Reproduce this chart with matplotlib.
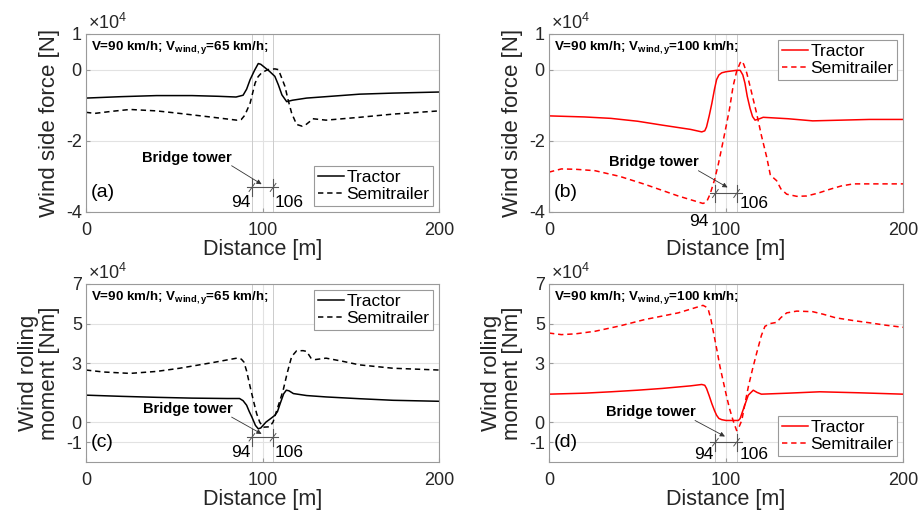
import numpy as np
import matplotlib
matplotlib.use("Agg")
import matplotlib.pyplot as plt

plt.rcParams['font.family'] = ['Liberation Sans', 'DejaVu Sans']
plt.rcParams['mathtext.fontset'] = 'custom'
plt.rcParams['mathtext.rm'] = 'Liberation Sans'
plt.rcParams['mathtext.it'] = 'Liberation Sans'
plt.rcParams['mathtext.bf'] = 'Liberation Sans:bold'
plt.rcParams['axes.unicode_minus'] = False

# ---- (a) side force, wind 65 km/h  [x1e4 N]
a_trac_x = [0, 20, 40, 60, 75, 85, 89, 91, 93, 95.5, 97.6, 99, 101, 104, 107, 109, 111, 113.7, 117, 125, 136, 155, 174, 200]
a_trac_y = [-0.80, -0.76, -0.73, -0.73, -0.75, -0.77, -0.72, -0.55, -0.28, -0.02, 0.17, 0.15, 0.07, -0.05, -0.19, -0.43, -0.71, -0.90, -0.86, -0.80, -0.76, -0.69, -0.66, -0.63]
a_semi_x = [0, 5, 15, 25, 40, 53, 72, 85.4, 88, 90, 93, 95.8, 97.5, 99.5, 103, 107, 109, 111, 112.7, 114.5, 116.5, 119.3, 122.5, 124.5, 127, 128.5, 136, 155, 174, 200]
a_semi_y = [-1.20, -1.23, -1.17, -1.12, -1.16, -1.23, -1.34, -1.42, -1.40, -1.28, -0.94, -0.38, -0.20, -0.09, 0.0, 0.02, 0.0, -0.25, -0.47, -0.85, -1.22, -1.54, -1.59, -1.55, -1.45, -1.38, -1.42, -1.34, -1.25, -1.16]

# ---- (b) side force, wind 100 km/h  [x1e4 N]
b_trac_x = [0, 20, 35, 50, 64, 80, 86.3, 88, 89, 90.5, 92, 93.5, 94.7, 96, 97.6, 100, 106, 108, 109.5, 110.7, 112, 113.6, 115, 116.4, 119, 121, 135, 149, 165, 181, 200]
b_trac_y = [-1.30, -1.33, -1.37, -1.45, -1.56, -1.68, -1.75, -1.72, -1.61, -1.30, -0.95, -0.55, -0.28, -0.15, -0.09, -0.06, -0.02, -0.02, -0.15, -0.38, -0.75, -1.09, -1.32, -1.42, -1.38, -1.34, -1.38, -1.44, -1.42, -1.40, -1.40]
b_semi_x = [0, 7, 15, 26, 40, 54, 73, 87, 89, 91, 93.5, 95.7, 98, 100.4, 102, 104, 106, 108, 108.9, 110, 111.7, 114, 117.3, 120, 123, 125, 127, 128.6, 131, 134.3, 140, 145.6, 152, 158.8, 165, 172, 185, 200]
b_semi_y = [-2.88, -2.79, -2.80, -2.84, -3.00, -3.22, -3.55, -3.76, -3.72, -3.50, -3.10, -2.65, -2.10, -1.51, -1.10, -0.47, -0.05, 0.19, 0.24, 0.15, -0.09, -0.55, -1.23, -1.85, -2.46, -2.95, -3.05, -3.12, -3.35, -3.50, -3.56, -3.55, -3.47, -3.36, -3.27, -3.21, -3.21, -3.21]

# ---- (c) rolling moment, wind 65 km/h  [x1e4 Nm]
c_trac_x = [0, 20, 40, 60, 80, 87, 89, 91, 92.5, 94, 96, 97.6, 99, 102, 105, 107, 108.5, 110, 112, 113.5, 115, 117.5, 125, 136, 155, 174, 200]
c_trac_y = [1.38, 1.32, 1.27, 1.23, 1.21, 1.21, 1.10, 0.87, 0.55, 0.27, -0.15, -0.32, -0.28, 0.02, 0.22, 0.36, 0.55, 0.95, 1.45, 1.63, 1.60, 1.46, 1.36, 1.29, 1.20, 1.12, 1.07]
c_semi_x = [0, 10, 25, 40, 53, 72, 85.4, 88, 89.5, 91, 93, 95, 96.7, 98.5, 100.5, 104, 106, 107.5, 109.5, 111.7, 114, 116.5, 119.3, 123, 125, 127.5, 130, 136, 145, 155, 174, 200]
c_semi_y = [2.65, 2.55, 2.48, 2.58, 2.74, 3.03, 3.25, 3.20, 3.05, 2.60, 1.80, 1.05, 0.44, 0.0, -0.24, -0.22, 0.02, 0.45, 1.00, 1.63, 2.50, 3.33, 3.62, 3.63, 3.59, 3.25, 3.18, 3.25, 3.10, 2.91, 2.74, 2.65]

# ---- (d) rolling moment, wind 100 km/h  [x1e4 Nm]
d_trac_x = [0, 20, 35, 50, 64, 80, 86.3, 88, 89, 90.5, 92, 93.5, 94.7, 96, 97.6, 100, 107, 108, 108.9, 110.5, 112.6, 115.4, 117.5, 120, 135, 153, 175, 200]
d_trac_y = [1.43, 1.48, 1.55, 1.63, 1.72, 1.85, 1.92, 1.88, 1.72, 1.35, 0.95, 0.60, 0.36, 0.20, 0.14, 0.10, 0.10, 0.20, 0.44, 0.85, 1.38, 1.63, 1.52, 1.43, 1.48, 1.55, 1.50, 1.43]
d_semi_x = [0, 7, 15, 26, 40, 54, 73, 87, 88.5, 90, 91.5, 93, 95, 96.6, 98.5, 100.4, 102, 104, 106, 107.5, 108.9, 110.5, 112.6, 115, 117.3, 120, 122, 125, 128.6, 131, 134.3, 140, 149, 155, 162, 172, 181, 190, 200]
d_semi_y = [4.52, 4.44, 4.48, 4.61, 4.88, 5.20, 5.54, 5.92, 5.85, 5.71, 5.20, 4.52, 3.60, 2.82, 2.05, 1.29, 0.70, 0.10, -0.41, -0.20, 0.10, 0.85, 1.80, 2.70, 3.50, 4.40, 4.86, 5.00, 5.06, 5.30, 5.54, 5.63, 5.60, 5.47, 5.29, 5.15, 5.04, 4.92, 4.81]

tower_start, tower_end = 94, 106
x_ticks = [0, 100, 200]
force_ticks = [-4, -2, 0, 1]
moment_ticks = [-1, 0, 3, 5, 7]

W, H = 921, 514
fig = plt.figure(figsize=(W / 100, H / 100), dpi=100)


def px_axes(l, t, r, b):
    return fig.add_axes([l / W, 1 - b / H, (r - l) / W, (b - t) / H])


def panel(ax, tx, ty, sx, sy, color, yticks, ylim, ylabel, wind, tag,
          legend_loc, bt_txt, bt_arrow, dim_y, dim_h, lbl94, lbl106):
    ax.plot(tx, ty, color=color, lw=1.1, label='Tractor')
    ax.plot(sx, sy, color=color, lw=1.1, ls=(0, (3.5, 2.5)), label='Semitrailer')
    ax.set_xlim(0, 200)
    ax.set_ylim(*ylim)
    ax.set_xticks(x_ticks)
    ax.set_yticks(yticks)
    ax.grid(True, color='#e2e2e2', lw=0.8)
    ax.set_axisbelow(True)
    for s in ax.spines.values():
        s.set_color('#9a9a9a')
        s.set_linewidth(0.8)
    ax.tick_params(direction='in', length=3, color='#9a9a9a', labelsize=13,
                   labelcolor='#262626')
    ax.tick_params(axis='x', pad=7)
    ax.tick_params(axis='y', pad=3)
    ax.set_xlabel('Distance [m]', fontsize=15.5, color='#262626', labelpad=0)
    ax.set_ylabel(ylabel, fontsize=16, color='#262626', labelpad=4,
                  linespacing=1.0)

    # bridge tower edges
    for xv in (tower_start, tower_end):
        ax.axvline(xv, color='#cccccc', lw=0.7, zorder=1)

    # dimension marker
    ax.plot([91, 109], [dim_y, dim_y], color='#555555', lw=0.8)
    for xv in (tower_start, tower_end):
        ax.plot([xv, xv], [dim_y - dim_h, dim_y + dim_h], color='#555555', lw=0.8)
        ax.plot([xv - 1.6, xv + 1.6], [dim_y - dim_h * 0.45, dim_y + dim_h * 0.45],
                color='#555555', lw=0.7)
    ax.text(lbl94[0], lbl94[1], str(tower_start), ha='right', va='center',
            fontsize=12.5, clip_on=False)
    ax.text(lbl106[0], lbl106[1], str(tower_end), ha='left', va='center',
            fontsize=12.5)
    ax.text(bt_txt[0], bt_txt[1], 'Bridge tower', ha='center', va='center',
            fontsize=10.5, fontweight='bold')
    ax.annotate('', xy=bt_arrow[1], xytext=bt_arrow[0],
                arrowprops=dict(arrowstyle='-|>', color='#333333', lw=0.6,
                                mutation_scale=7, shrinkA=0, shrinkB=0))

    ax.text(0.014, 0.925, 'V=90 km/h; V$_{\\mathbf{wind,y}}$=%d km/h;' % wind,
            transform=ax.transAxes, fontsize=9.6, fontweight='bold',
            ha='left', va='center')
    ax.text(0.014, 0.11, '(%s)' % tag, transform=ax.transAxes, fontsize=14,
            ha='left', va='center')
    ax.text(0.005, 1.005, '×10$^{4}$', transform=ax.transAxes, fontsize=13,
            ha='left', va='bottom', color='#262626')

    leg = ax.legend(loc=legend_loc, fontsize=12.5, handlelength=1.5,
                    handletextpad=0.15, borderpad=0.2, labelspacing=0.15,
                    borderaxespad=0.35, fancybox=False, framealpha=1)
    leg.get_frame().set_edgecolor('#9a9a9a')
    leg.get_frame().set_linewidth(0.8)


ax_a = px_axes(86, 34, 439, 212)
ax_b = px_axes(549, 34, 903, 212)
ax_c = px_axes(86, 284, 439, 462)
ax_d = px_axes(549, 284, 903, 462)

force_label = 'Wind side force [N]'
moment_label = 'Wind rolling\nmoment [Nm]'

panel(ax_a, a_trac_x, a_trac_y, a_semi_x, a_semi_y, 'black', force_ticks, (-4, 1),
      force_label, 65, 'a', 'lower right', (57, -2.49),
      ((82.5, -2.7), (99.5, -3.22)), -3.31, 0.25, (93, -3.74), (106.8, -3.74))
panel(ax_b, b_trac_x, b_trac_y, b_semi_x, b_semi_y, 'red', force_ticks, (-4, 1),
      force_label, 100, 'b', 'upper right', (59, -2.6),
      ((84.4, -2.84), (100.9, -3.31)), -3.48, 0.25, (90, -4.26), (107.8, -3.76))
panel(ax_c, c_trac_x, c_trac_y, c_semi_x, c_semi_y, 'black', moment_ticks, (-2, 7),
      moment_label, 65, 'c', 'upper right', (58, 0.70),
      ((82.5, 0.27), (99.5, -0.58)), -0.75, 0.42, (93, -1.51), (106.8, -1.51))
panel(ax_d, d_trac_x, d_trac_y, d_semi_x, d_semi_y, 'red', moment_ticks, (-2, 7),
      moment_label, 100, 'd', 'lower right', (57.5, 0.53),
      ((82.5, 0.1), (99.4, -0.71)), -1.0, 0.42, (93, -1.6), (107.8, -1.6))

fig.savefig('out.png', dpi=100)
